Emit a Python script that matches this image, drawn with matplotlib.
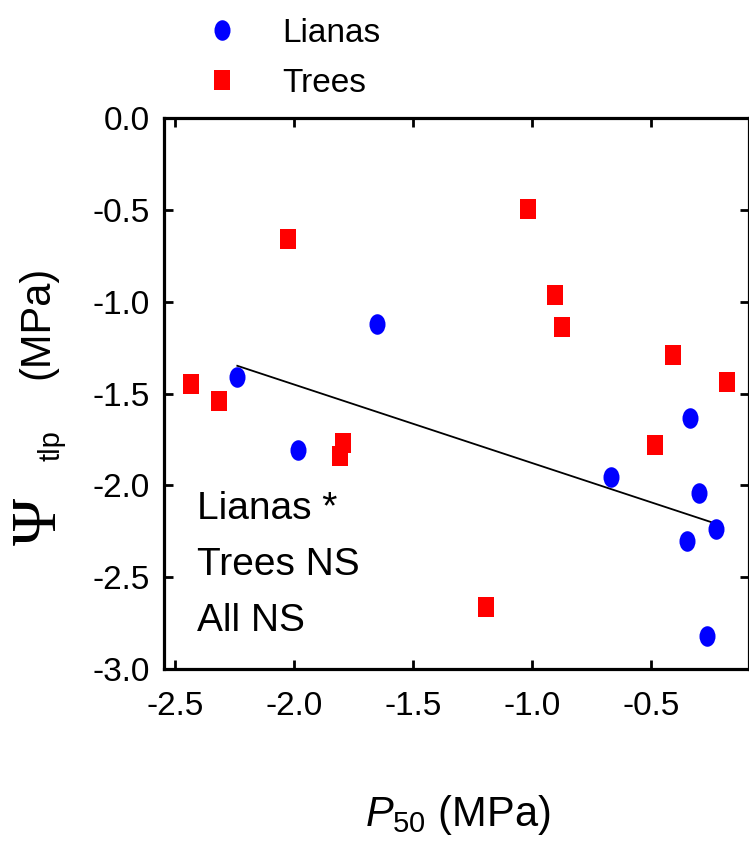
import numpy as np
import matplotlib
matplotlib.use("Agg")
import matplotlib.pyplot as plt
from matplotlib.path import Path
from matplotlib.transforms import Affine2D
from matplotlib.ticker import MultipleLocator, FormatStrFormatter

plt.rcParams['font.family'] = ['Liberation Sans', 'DejaVu Sans']
plt.rcParams['axes.unicode_minus'] = False
plt.rcParams['mathtext.fontset'] = 'custom'
plt.rcParams['mathtext.rm'] = 'Liberation Serif'
plt.rcParams['mathtext.sf'] = 'Liberation Sans'
plt.rcParams['mathtext.it'] = 'Liberation Sans:italic'

# datos
lianas_p50 = [-2.238, -1.982, -1.653, -0.669, -0.336, -0.297, -0.227, -0.347, -0.266]
lianas_tlp = [-1.411, -1.808, -1.120, -1.955, -1.632, -2.040, -2.239, -2.302, -2.819]
trees_p50 = [-2.433, -2.315, -2.026, -1.795, -1.805, -1.193, -1.016, -0.903, -0.875, -0.483, -0.409, -0.182]
trees_tlp = [-1.447, -1.542, -0.658, -1.768, -1.840, -2.665, -0.496, -0.966, -1.136, -1.783, -1.288, -1.440]
stats_text = "Lianas *\nTrees NS\nAll NS"

# marcadores algo alargados en vertical, como en el original
ellipse = Path.unit_circle().transformed(Affine2D().scale(0.78, 1.0))
rect = Path.unit_rectangle().transformed(Affine2D().translate(-0.5, -0.5).scale(1.56, 2.0))

W, H = 749, 851
fig = plt.figure(figsize=(W / 100, H / 100), dpi=100)
ax = fig.add_axes([164 / W, 1 - 669 / H, (W - 164) / W, (669 - 118) / H])

ax.plot(lianas_p50, lianas_tlp, linestyle='none', marker=ellipse, markersize=14.8,
        color='#0000ff', markeredgewidth=0, label='Lianas', zorder=3)
ax.plot(trees_p50, trees_tlp, linestyle='none', marker=rect, markersize=14,
        color='#ff0000', markeredgewidth=0, label='Trees', zorder=3)

# regresion lineal de las lianas
m, b = np.polyfit(lianas_p50, lianas_tlp, 1)
xs = np.array([min(lianas_p50), max(lianas_p50)])
ax.plot(xs, m * xs + b, color='black', linewidth=1.3, zorder=2)

ax.set_xlim(-2.546, -0.088)
ax.set_ylim(-3.0, 0.0)
ax.xaxis.set_major_locator(MultipleLocator(0.5))
ax.yaxis.set_major_locator(MultipleLocator(0.5))
ax.xaxis.set_major_formatter(FormatStrFormatter('%.1f'))
ax.yaxis.set_major_formatter(FormatStrFormatter('%.1f'))
ax.tick_params(direction='in', top=True, right=True, length=6.5, width=2,
               labelsize=24, pad=10)
ax.tick_params(axis='x', pad=16)
for s in ax.spines.values():
    s.set_linewidth(2.3)

ax.text(197 / W, 1 - 491 / H, stats_text, transform=fig.transFigure, fontsize=28,
        va='top', ha='left', linespacing=1.72)

fig.text(458 / W, 1 - 815 / H, r'$P_{\mathsf{50}}$ (MPa)', fontsize=30, ha='center', va='center')

# etiqueta del eje y armada por partes (el Psi es mas grande en el original)
fig.text(41 / W, 1 - 521 / H, 'Ψ', family='Liberation Serif', fontsize=46, rotation=90,
         ha='center', va='center')
fig.text(51 / W, 1 - 446 / H, 'tlp', fontsize=21, rotation=90, ha='center', va='center')
fig.text(37 / W, 1 - 322 / H, '(MPa)', fontsize=30, rotation=90, ha='center', va='center')

ax.legend(loc='upper left', bbox_to_anchor=(189 / W, 1 - 18 / H), bbox_transform=fig.transFigure,
          frameon=False, fontsize=24, borderpad=0, handlelength=2, handletextpad=0.8,
          labelspacing=0.57, borderaxespad=0, numpoints=1)

fig.savefig('out.png', dpi=100)
